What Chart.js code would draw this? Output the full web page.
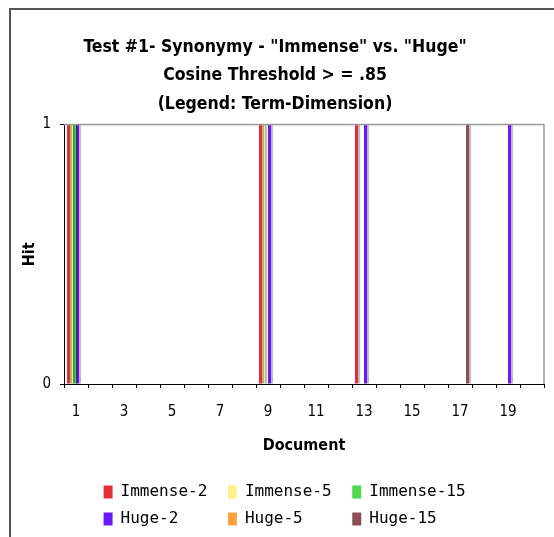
<!DOCTYPE html>
<html>
<head>
<meta charset="utf-8">
<title>Test #1 - Synonymy</title>
<script src="https://cdn.jsdelivr.net/npm/chart.js@4.4.1/dist/chart.umd.min.js"></script>
<style>
  html, body { margin: 0; padding: 0; background: #fff; overflow: hidden; }
  #frame {
    position: absolute; left: 9px; top: 8px; width: 700px; height: 700px;
    border-left: 2px solid #555; border-top: 2px solid #555;
  }
  #myChart { position: absolute; left: 0; top: 0; }
</style>
</head>
<body>
<div id="frame"></div>
<canvas id="myChart" width="554" height="537"></canvas>
<script>
// documents 1..20 on the x axis
const documents = ['1','2','3','4','5','6','7','8','9','10','11','12','13','14','15','16','17','18','19','20'];

// hit (1) or no hit (0) per document
const immense2  = [1,0,0,0,0,0,0,0,1,0,0,0,1,0,0,0,0,0,0,0];
const immense5  = [1,0,0,0,0,0,0,0,1,0,0,0,0,0,0,0,0,0,0,0];
const immense15 = [1,0,0,0,0,0,0,0,0,0,0,0,0,0,0,0,0,0,0,0];
const huge2     = [1,0,0,0,0,0,0,0,1,0,0,0,1,0,0,0,0,0,1,0];
const huge5     = [0,0,0,0,0,0,0,0,0,0,0,0,0,0,0,0,0,0,0,0];
const huge15    = [0,0,0,0,0,0,0,0,0,0,0,0,0,0,0,0,1,0,0,0];

const seriesNames = ['Immense-2','Immense-5','Immense-15','Huge-2','Huge-5','Huge-15'];
const seriesColors = ['#e2303a','#fff18c','#4fd84f','#6a18ff','#ffa03a','#8a5058'];

const yTicks = [0, 1];

// legend column widths in characters (mono font), so both rows line up
const legendCols = [10, 10, 17];

const narrow = "'DejaVu Sans Condensed', 'Liberation Sans', sans-serif";
const mono = "'DejaVu Sans Mono', monospace";

const ctx = document.getElementById('myChart');

const data = {
  labels: documents,
  datasets: [immense2, immense5, immense15, huge2, huge5, huge15].map((values, i) => ({
    label: seriesNames[i],
    data: values,
    backgroundColor: seriesColors[i],
    borderWidth: 0
  }))
};

// soft grey shadow to the right of every bar, like the old excel look
const barShadow = {
  id: 'barShadow',
  beforeDatasetsDraw(chart) {
    const c = chart.ctx;
    c.save();
    c.shadowColor = 'rgba(0,0,0,0.28)';
    c.shadowOffsetX = 2;
    c.shadowOffsetY = 0;
    c.shadowBlur = 1;
  },
  afterDatasetsDraw(chart) {
    chart.ctx.restore();
  }
};

// grey line on top and right of the plot
const plotBox = {
  id: 'plotBox',
  afterDraw(chart) {
    const a = chart.chartArea;
    const c = chart.ctx;
    c.save();
    c.strokeStyle = '#999';
    c.lineWidth = 1.5;
    c.beginPath();
    c.moveTo(a.left, a.top);
    c.lineTo(a.right, a.top);
    c.lineTo(a.right, a.bottom);
    c.stroke();
    c.restore();
  }
};

new Chart(ctx, {
  type: 'bar',
  data: data,
  plugins: [barShadow, plotBox],
  options: {
    responsive: false,
    animation: false,
    layout: { padding: { left: 6, right: 10, top: 0, bottom: 0 } },
    datasets: { bar: { barPercentage: 1, categoryPercentage: 0.75 } },
    plugins: {
      tooltip: { enabled: false },
      title: {
        display: true,
        text: ['Test #1- Synonymy - "Immense" vs. "Huge"', 'Cosine Threshold > = .85', '(Legend: Term-Dimension)'],
        color: '#000',
        font: { family: narrow, size: 17.5, weight: 'bold', lineHeight: 1.63 },
        padding: { top: 33, bottom: 6 }
      },
      legend: {
        position: 'bottom',
        align: 'end',
        labels: {
          color: '#000',
          font: { family: mono, size: 16 },
          boxWidth: 9,
          boxHeight: 13,
          padding: 11,
          generateLabels(chart) {
            const items = Chart.defaults.plugins.legend.labels.generateLabels(chart);
            items.forEach((item, i) => {
              item.text = item.text.padEnd(legendCols[i % 3], ' ');
            });
            return items;
          }
        }
      }
    },
    scales: {
      x: {
        afterFit(scale) { scale.height = 89; },
        grid: { drawOnChartArea: false, drawTicks: true, tickLength: 4, color: '#000', offset: true },
        border: { display: true, color: '#000', width: 1 },
        ticks: {
          autoSkip: false,
          maxRotation: 0,
          color: '#000',
          padding: 15,
          font: { family: narrow, size: 15 },
          callback(value, index) { return index % 2 === 0 ? documents[index] : ''; }
        },
        title: {
          display: true,
          text: 'Document',
          color: '#000',
          font: { family: narrow, size: 16, weight: 'bold' },
          padding: { top: 0, bottom: 18 }
        }
      },
      y: {
        min: 0,
        max: 1,
        afterFit(scale) { scale.width = 58; },
        afterBuildTicks(scale) { scale.ticks = yTicks.map(v => ({ value: v })); },
        grid: { drawOnChartArea: false, drawTicks: true, tickLength: 4, color: '#000' },
        border: { display: true, color: '#000', width: 1 },
        ticks: { color: '#000', padding: 9, font: { family: narrow, size: 15 } },
        title: {
          display: true,
          text: 'Hit',
          color: '#000',
          font: { family: narrow, size: 16, weight: 'bold' },
          padding: { top: 14, bottom: 0 }
        }
      }
    }
  }
});
</script>
</body>
</html>
